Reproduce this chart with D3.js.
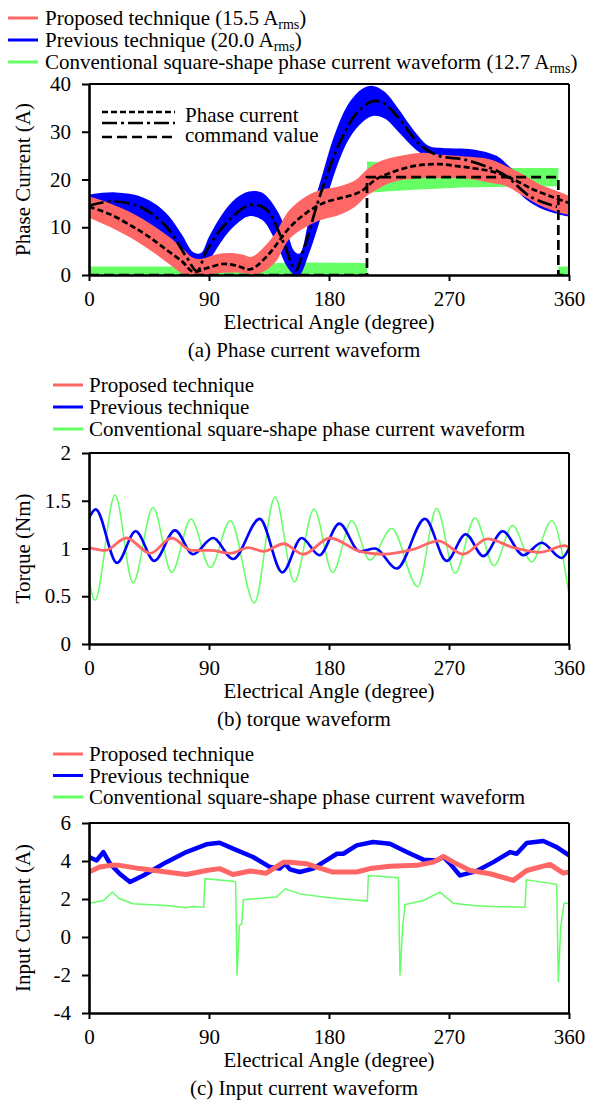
<!DOCTYPE html>
<html>
<head>
<meta charset="utf-8">
<script src="https://cdn.jsdelivr.net/npm/d3@7"></script>
<style>
  body { margin: 0; background: #fff; }
  svg { display: block; }
  text { font-family: "Liberation Serif", "Times New Roman", serif; fill: #000; }
</style>
</head>
<body>
<svg id="chart" width="589" height="1102"></svg>
<script>
// ---------- tick values ----------
const angleTicks  = [0, 90, 180, 270, 360];
const phaseTicks  = [0, 10, 20, 30, 40];
const torqueTicks = [0, 0.5, 1, 1.5, 2];
const inputTicks  = [-4, -2, 0, 2, 4, 6];

// ---------- (a) phase current: measured ripple bands [angle, low, high] (A) ----------
const proposedPhaseBand = [
  [0,12.0,16.5],[10,10.8,15.6],[20,9.5,14.5],[30,8.0,13.3],[40,6.3,11.8],[50,4.4,10.0],
  [60,2.3,8.0],[70,0.3,5.6],[78,0,3.6],[85,0,3.4],[95,0.3,4.3],[105,0.5,4.6],[115,0.4,4.3],
  [122,0.2,3.8],[130,0.6,5.5],[140,2.8,8.8],[150,7.5,13.5],[163,10.1,16.5],[175,11.6,17.9],
  [188,12.6,18.6],[200,14.4,19.9],[208,16.5,22.0],[216,17.9,23.5],[226,19.3,24.5],
  [238,20.0,25.2],[251,20.3,25.6],[263,20.3,25.2],[276,20.3,25.0],[288,20.0,24.7],
  [301,19.3,24.2],[313,18.6,22.8],[326,16.5,21.0],[338,14.6,19.0],[351,13.2,17.6],[360,12.6,16.6]
];
const previousPhaseBand = [
  [0,13.0,16.8],[10,13.3,17.2],[20,13.0,17.3],[30,12.5,17.0],[40,11.5,16.3],[50,9.5,14.8],
  [60,6.6,12.3],[70,2.5,8.3],[78,0.5,4.8],[84,1.0,4.6],[90,3.0,8.0],[100,7.3,12.8],
  [110,10.5,16.0],[120,12.3,17.5],[130,11.5,17.2],[140,7.0,14.0],[148,2.0,9.5],[154,0,5.0],
  [158,0,4.5],[165,4.5,11.5],[175,13.0,21.0],[185,22.0,30.0],[195,28.5,36.0],[205,32.0,39.0],
  [213,33.3,39.6],[222,32.7,38.3],[232,30.0,34.8],[245,26.3,29.8],[255,24.5,27.0],
  [265,23.8,26.6],[288,23.6,26.3],[306,22.4,24.9],[315,20.0,22.8],[325,16.5,20.5],
  [335,14.5,18.0],[345,13.3,16.4],[360,12.2,14.8]
];
const conventionalPhaseBand = [
  [0,0,1.8],[60,0,1.8],[120,0,2.4],[160,0,2.6],[208.5,0,2.5],[208.5,17.2,23.8],
  [240,17.8,23.0],[280,18.3,22.5],[320,18.5,22.4],[352,18.6,22.4],[352,0,1.8],[360,0,1.8]
];

// ---------- (a) phase current command values [angle, A] ----------
const proposedCommand = [
  [0,14.3],[16,12.7],[33,10.1],[45,8.0],[58,5.3],[70,2.8],[78,0.7],[88,1.4],[100,2.3],
  [110,2.0],[121,1.2],[133,3.8],[151,10.1],[163,13.0],[176,15.1],[190,16.2],[200,17.0],
  [206,17.9],[215,20.0],[226,21.4],[240,22.6],[251,23.1],[264,23.2],[276,22.8],[290,22.3],
  [306,21.4],[320,19.8],[331,18.2],[345,16.6],[360,15.1]
];
const previousCommand = [
  [0,14.5],[16,15.4],[38,14.3],[58,10.1],[73,3.8],[81,0.8],[88,5.0],[103,10.9],[121,14.7],
  [133,13.7],[146,6.7],[155,1.0],[161,5.3],[173,16.4],[188,27.7],[201,34.0],[213,36.4],
  [221,36.0],[233,32.6],[248,27.3],[263,24.9],[281,24.2],[301,22.4],[313,20.7],[331,16.4],[351,14.3]
];
const conventionalCommand = [
  [0,0],[208.5,0],[208.5,20.5],[352,20.5],[352,0],[360,0]
];

// ---------- (b) torque [angle, Nm] ----------
const proposedTorque = [
  [0,1.01],[12,0.98],[28,1.11],[46,0.95],[62,1.11],[77,0.98],[91,0.98],[106,0.95],[119.5,1.01],
  [131,0.97],[146,1.05],[160.75,0.94],[180.75,1.11],[203,0.97],[220.75,0.94],[243,0.99],
  [262,1.08],[280.75,0.94],[298.75,1.10],[318.25,1.01],[338,0.96],[357,1.03],[360,1.01]
];
const previousTorque = [
  [0,1.32],[5,1.41],[21,0.85],[35,1.18],[49,0.87],[64.5,1.19],[78,0.94],[93,1.11],[108,0.89],
  [128,1.31],[145,0.75],[159.5,1.11],[172.75,0.93],[187.75,1.26],[203,0.97],[214.5,1.0],
  [230.75,0.79],[252,1.31],[268.25,0.87],[282.5,1.15],[295.75,0.92],[310.25,1.18],
  [325.75,0.93],[339.5,1.06],[354.5,0.90],[360,1.0]
];
const conventionalTorque = [
  [0,0.67],[4.5,0.46],[19.5,1.56],[33,0.64],[48,1.43],[62,0.75],[76.5,1.31],[91,0.80],
  [106,1.29],[124,0.43],[139.5,1.54],[154,0.65],[168.75,1.41],[182.75,0.75],[197,1.29],
  [210.75,0.88],[227,1.21],[246.5,0.60],[260.75,1.42],[274.5,0.74],[289.5,1.32],
  [303.75,0.82],[317.75,1.24],[332,0.86],[347,1.29],[360,0.52]
];

// ---------- (c) input current [angle, A] ----------
const proposedInput = [
  [0,3.42],[8,3.68],[16,3.77],[23,3.77],[38,3.6],[58,3.42],[73,3.29],[88,3.5],[98,3.6],
  [108,3.29],[121,3.47],[133,3.36],[146,3.94],[150.75,3.94],[163,3.86],[170.75,3.68],
  [183,3.42],[200.75,3.42],[210.75,3.6],[225.75,3.72],[245.75,3.77],[258.25,3.94],
  [265.75,4.24],[273.25,3.94],[285.75,3.5],[300.75,3.33],[318.25,2.98],[328.25,3.5],
  [345.75,3.82],[355.75,3.36],[360,3.42]
];
const previousInput = [
  [0,4.21],[5.75,4.03],[10.75,4.47],[15.75,3.86],[23,3.33],[30.75,2.89],[40.75,3.24],
  [58,3.94],[73,4.47],[88,4.88],[98,4.96],[108,4.65],[123,4.21],[135.75,3.68],[143,3.6],
  [147,3.86],[150.75,3.56],[158,3.42],[168,3.6],[178,4.03],[186,4.38],[190.75,4.38],
  [200.75,4.82],[213,5.0],[225.75,4.91],[238.25,4.47],[250.75,4.07],[260.75,4.03],
  [265.75,4.21],[270.75,3.86],[278.25,3.24],[290.75,3.47],[303.25,3.94],[315.75,4.47],
  [320.75,4.38],[328.25,4.95],[340.75,5.05],[350.75,4.73],[360,4.3]
];
const conventionalInput = [
  [0,1.78],[10.75,1.92],[17.5,2.36],[23,2.01],[33,1.75],[58,1.66],[73,1.54],[78,1.61],
  [86,1.57],[87,3.07],[108,2.94],[110,2.89],[111,-2.03],[112.75,0.6],[114.5,0.69],
  [115.75,1.96],[133,2.06],[140.75,2.1],[147,2.54],[158,2.27],[175.75,2.1],[188,2.01],
  [208.75,1.89],[209.5,3.24],[232,3.12],[233.25,-2.03],[235.25,0.52],[237,1.71],
  [250.75,1.92],[263.25,2.36],[273.25,1.78],[288.25,1.66],[300.75,1.61],[327,1.57],
  [328,3.01],[350.75,2.77],[352,-2.38],[353.75,0.52],[356.25,1.78],[360,1.78]
];

// ---------- labels ----------
const seriesNames = ["Proposed technique", "Previous technique",
                     "Conventional square-shape phase current waveform"];
const rmsValues = ["15.5", "20.0", "12.7"];
const commandLegend = ["Phase current", "command value"];

// ---------- drawing ----------
const W = 589, H = 1102;
const COLORS = ["#ff6666", "#0000ff", "#66ff66"];
const FONT = 21;
const SERIF = '"Liberation Serif", "Times New Roman", serif';
const svg = d3.select("#chart");
svg.append("rect").attr("width", W).attr("height", H).attr("fill", "#fff");

const xLeft = 89, xRight = 569;
const x = d3.scaleLinear().domain([0, 360]).range([xLeft, xRight]);

let clipId = 0;
function makePanel(cfg) {
  const y = d3.scaleLinear().domain(cfg.domain).range([cfg.bottom, cfg.top]);
  const g = svg.append("g");
  const id = "clip" + (clipId++);
  g.append("clipPath").attr("id", id).append("rect")
    .attr("x", xLeft).attr("y", cfg.top).attr("width", xRight - xLeft).attr("height", cfg.bottom - cfg.top);
  const plot = g.append("g").attr("clip-path", `url(#${id})`);

  // frame top/right
  g.append("line").attr("x1", xLeft).attr("x2", xRight).attr("y1", cfg.top).attr("y2", cfg.top)
    .attr("stroke", "#000").attr("stroke-width", 2);
  g.append("line").attr("x1", xRight).attr("x2", xRight).attr("y1", cfg.top).attr("y2", cfg.bottom)
    .attr("stroke", "#000").attr("stroke-width", 2);

  const xAxis = g.append("g").attr("transform", `translate(0,${cfg.bottom})`)
    .call(d3.axisBottom(x).tickValues(angleTicks).tickSizeInner(6).tickSizeOuter(0).tickPadding(10));
  const yAxis = g.append("g").attr("transform", `translate(${xLeft},0)`)
    .call(d3.axisLeft(y).tickValues(cfg.ticks).tickSizeInner(7).tickSizeOuter(0).tickPadding(11)
      .tickFormat(d => String(d)));
  [xAxis, yAxis].forEach(a => {
    a.attr("font-family", SERIF);
    a.select(".domain").attr("stroke", "#000").attr("stroke-width", 2.6);
    a.selectAll(".tick line").attr("stroke", "#000").attr("stroke-width", 2);
    a.selectAll(".tick text").attr("font-size", FONT).attr("font-family", SERIF).attr("fill", "#000");
  });

  g.append("text").attr("x", (xLeft + xRight) / 2).attr("y", cfg.bottom + 54)
    .attr("text-anchor", "middle").attr("font-size", FONT).text("Electrical Angle (degree)");
  g.append("text").attr("x", 304).attr("y", cfg.bottom + 82)
    .attr("text-anchor", "middle").attr("font-size", FONT).text(cfg.caption);
  g.append("text")
    .attr("transform", `translate(23,${(cfg.top + cfg.bottom) / 2}) rotate(-90)`)
    .attr("text-anchor", "middle").attr("dominant-baseline", "central")
    .attr("font-size", FONT).text(cfg.yLabel);

  return { y, plot, g };
}

function legend(rows, lineX1, lineX2, textX, withRms) {
  rows.forEach((cy, i) => {
    svg.append("line").attr("x1", lineX1).attr("x2", lineX2).attr("y1", cy).attr("y2", cy)
      .attr("stroke", COLORS[i]).attr("stroke-width", 3);
    const t = svg.append("text").attr("x", textX).attr("y", cy + 7).attr("font-size", FONT);
    if (withRms) {
      t.append("tspan").text(`${seriesNames[i]} (${rmsValues[i]} A`);
      t.append("tspan").attr("font-size", 14).attr("dy", 4).text("rms");
      t.append("tspan").attr("dy", -4).text(")");
    } else {
      t.text(seriesNames[i]);
    }
  });
}

// ---- (a) phase current ----
const pa = makePanel({ top: 84, bottom: 275, domain: [0, 40], ticks: phaseTicks,
  yLabel: "Phase Current (A)", caption: "(a) Phase current waveform" });
const band = d3.area().x(d => x(d[0])).y0(d => pa.y(d[1])).y1(d => pa.y(d[2]));
pa.plot.append("path").datum(conventionalPhaseBand).attr("d", band.curve(d3.curveLinear)).attr("fill", COLORS[2]);
pa.plot.append("path").datum(previousPhaseBand).attr("d", band.curve(d3.curveCatmullRom)).attr("fill", COLORS[1]);
pa.plot.append("path").datum(proposedPhaseBand).attr("d", band.curve(d3.curveCatmullRom)).attr("fill", COLORS[0]);

const cmdLine = d3.line().x(d => x(d[0])).y(d => pa.y(d[1]));
const dashProposed = "6,3", dashPrevious = "15,4,3,4", dashConventional = "10,5";
pa.plot.append("path").datum(conventionalCommand).attr("d", cmdLine.curve(d3.curveLinear))
  .attr("fill", "none").attr("stroke", "#000").attr("stroke-width", 2.7).attr("stroke-dasharray", dashConventional);
pa.plot.append("path").datum(previousCommand).attr("d", cmdLine.curve(d3.curveCatmullRom))
  .attr("fill", "none").attr("stroke", "#000").attr("stroke-width", 2.7).attr("stroke-dasharray", dashPrevious);
pa.plot.append("path").datum(proposedCommand).attr("d", cmdLine.curve(d3.curveCatmullRom))
  .attr("fill", "none").attr("stroke", "#000").attr("stroke-width", 2.7).attr("stroke-dasharray", dashProposed);

// command legend inside (a)
[[112, dashProposed], [123, dashPrevious], [137, dashConventional]].forEach(([ly, dash]) => {
  pa.g.append("line").attr("x1", 102).attr("x2", 175).attr("y1", ly).attr("y2", ly)
    .attr("stroke", "#000").attr("stroke-width", 2.5).attr("stroke-dasharray", dash);
});
pa.g.append("text").attr("x", 185).attr("y", 122).attr("font-size", FONT).text(commandLegend[0]);
pa.g.append("text").attr("x", 185).attr("y", 142).attr("font-size", FONT).text(commandLegend[1]);

legend([18, 40, 62], 8, 38, 45, true);

// ---- (b) torque ----
const pb = makePanel({ top: 453, bottom: 644, domain: [0, 2], ticks: torqueTicks,
  yLabel: "Torque (Nm)", caption: "(b) torque waveform" });
const tLine = d3.line().x(d => x(d[0])).y(d => pb.y(d[1])).curve(d3.curveMonotoneX);
pb.plot.append("path").datum(conventionalTorque).attr("d", tLine)
  .attr("fill", "none").attr("stroke", COLORS[2]).attr("stroke-width", 1.5);
pb.plot.append("path").datum(previousTorque).attr("d", tLine)
  .attr("fill", "none").attr("stroke", COLORS[1]).attr("stroke-width", 2.6);
pb.plot.append("path").datum(proposedTorque).attr("d", tLine)
  .attr("fill", "none").attr("stroke", COLORS[0]).attr("stroke-width", 2.8);
legend([385, 407, 429], 53, 83, 89, false);

// ---- (c) input current ----
const pc = makePanel({ top: 823, bottom: 1013, domain: [-4, 6], ticks: inputTicks,
  yLabel: "Input Current (A)", caption: "(c) Input current waveform" });
const iLine = d3.line().x(d => x(d[0])).y(d => pc.y(d[1]));
pc.plot.append("path").datum(conventionalInput).attr("d", iLine.curve(d3.curveLinear))
  .attr("fill", "none").attr("stroke", COLORS[2]).attr("stroke-width", 1.5);
pc.plot.append("path").datum(previousInput).attr("d", iLine.curve(d3.curveLinear))
  .attr("fill", "none").attr("stroke", COLORS[1]).attr("stroke-width", 4.5).attr("stroke-linejoin", "round");
pc.plot.append("path").datum(proposedInput).attr("d", iLine.curve(d3.curveLinear))
  .attr("fill", "none").attr("stroke", COLORS[0]).attr("stroke-width", 5).attr("stroke-linejoin", "round");
legend([754, 775.5, 797], 53, 83, 89, false);
</script>
</body>
</html>
